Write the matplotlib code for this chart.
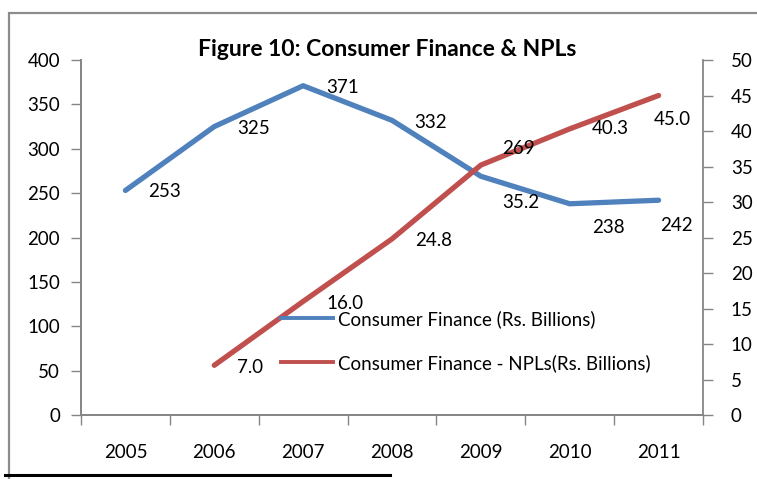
import matplotlib.pyplot as plt
from matplotlib.patches import Rectangle
from matplotlib.lines import Line2D

plt.rcParams['font.family'] = ['Lato', 'DejaVu Sans']

# data
years = ['2005', '2006', '2007', '2008', '2009', '2010', '2011']
finance = [253, 325, 371, 332, 269, 238, 242]
npl_years = ['2006', '2007', '2008', '2009', '2010', '2011']
npls = [7.0, 16.0, 24.8, 35.2, 40.3, 45.0]

# label offsets in pixels (dx, dy), as placed in the original
fin_off = [(39, -1), (39, -2), (39, -2), (39, -2), (38, 28), (39, -24), (18, -25)]
npl_off = [(36, -2), (42, -2), (42, -2), (40, -37), (41, 0), (14, -24)]

blue = '#4F81BD'
red = '#C0504D'
grey = '#868686'
fs = 13.5

fig = plt.figure(figsize=(7.57, 4.79), dpi=100)
W, H = 757, 479
ax = fig.add_axes([81 / W, (H - 415) / H, (703 - 81) / W, (415 - 60) / H])
ax2 = ax.twinx()

x = list(range(len(years)))
xn = [years.index(y) for y in npl_years]

ax.plot(x, finance, color=blue, lw=3.8, solid_capstyle='round', zorder=3)
ax2.plot(xn, npls, color=red, lw=3.8, solid_capstyle='round', zorder=3)

# all data labels go on the top axes so they sit over both lines
for xi, v, (dx, dy) in zip(x, finance, fin_off):
    ax2.annotate(str(v), (xi, v), xycoords=ax.transData, xytext=(dx, dy),
                 textcoords='offset pixels', ha='center', va='center', fontsize=fs, zorder=5)
for xi, v, (dx, dy) in zip(xn, npls, npl_off):
    ax2.annotate('%.1f' % v, (xi, v), xytext=(dx, dy), textcoords='offset pixels',
                 ha='center', va='center', fontsize=fs, zorder=5)

ax.set_xlim(-0.5, 6.5)
ax.set_ylim(0, 400)
ax2.set_ylim(0, 50)
ax.set_yticks(range(0, 401, 50))
ax2.set_yticks(range(0, 51, 5))
ax.set_xticks(x)
ax.set_xticklabels(years)
ax.set_xticks([i - 0.5 for i in range(len(years) + 1)], minor=True)
ax.tick_params(axis='x', which='major', length=0, pad=21, labelsize=fs)
ax.tick_params(axis='x', which='minor', length=7, width=1, color=grey)
ax.tick_params(axis='y', length=7, width=1, color=grey, pad=8, labelsize=fs)
ax2.tick_params(axis='y', length=7, width=1, color=grey, pad=13, labelsize=fs)

for a in (ax, ax2):
    a.spines['top'].set_visible(False)
    for s in ('left', 'right', 'bottom'):
        a.spines[s].set_color(grey)
        a.spines[s].set_linewidth(1.3)
ax.spines['right'].set_visible(False)

fig.text(387 / W, 1 - 49 / H, 'Figure 10: Consumer Finance & NPLs', ha='center',
         va='center', fontsize=16.5, fontweight='bold')

handles = [Line2D([], [], color=blue, lw=2.8), Line2D([], [], color=red, lw=2.8)]
fig.legend(handles, ['Consumer Finance (Rs. Billions)', 'Consumer Finance - NPLs(Rs. Billions)'],
           loc='upper left', bbox_to_anchor=(264 / W, 1 - 293 / H), frameon=False,
           fontsize=fs, handlelength=2.8, handletextpad=0.25, labelspacing=1.4)

# outer chart frame and footnote rule
fig.patches.append(Rectangle((9 / W, -0.1), 1.0, 1 - 13 / H + 0.1, transform=fig.transFigure,
                             fill=False, edgecolor='#8c8c8c', lw=1.6))
fig.add_artist(Line2D([5 / W, 390 / W], [1 - 475 / H] * 2, color='black', lw=2.2,
                      transform=fig.transFigure))

fig.savefig('out.png', dpi=100)
